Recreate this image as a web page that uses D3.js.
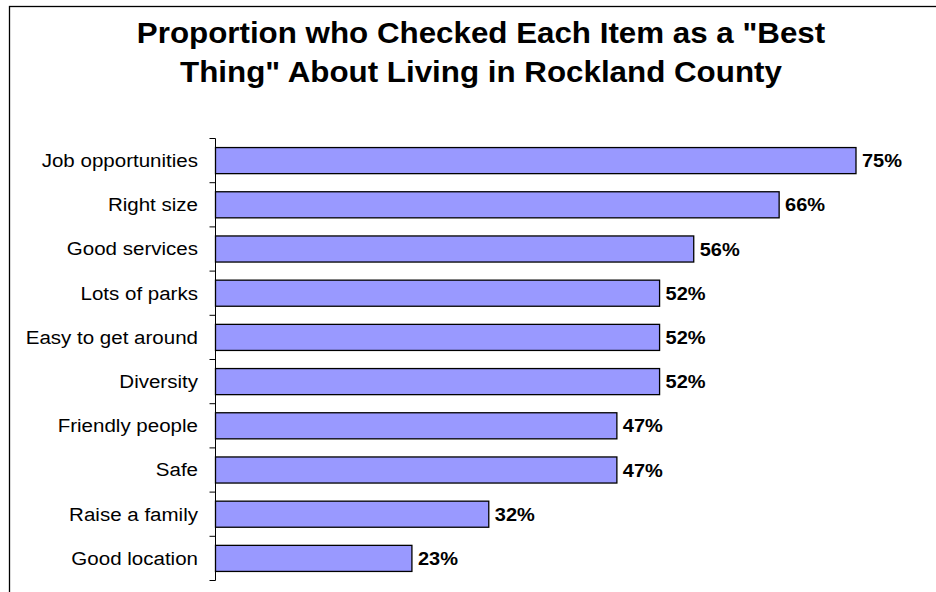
<!DOCTYPE html>
<html>
<head>
<meta charset="utf-8">
<script src="https://cdn.jsdelivr.net/npm/d3@7"></script>
<style>
  html, body { margin: 0; padding: 0; background: #fff; }
  svg { display: block; }
</style>
</head>
<body>
<svg id="chart" width="936" height="592"></svg>
<script>
// Survey items and share of respondents who checked each one
const categories = [
  "Job opportunities", "Right size", "Good services", "Lots of parks",
  "Easy to get around", "Diversity", "Friendly people", "Safe",
  "Raise a family", "Good location"
];
const values = [75, 66, 56, 52, 52, 52, 47, 47, 32, 23];
const titleLines = [
  "Proportion who Checked Each Item as a \"Best",
  "Thing\" About Living in Rockland County"
];

const svg = d3.select("#chart");
const W = 936, H = 592;
const FONT = "Liberation Sans, Arial, sans-serif";

// Widen text horizontally by a factor, keeping glyph height
function widen(sel, factor) {
  sel.each(function () {
    const len = this.getComputedTextLength();
    d3.select(this)
      .attr("textLength", len * factor)
      .attr("lengthAdjust", "spacingAndGlyphs");
  });
}

// Outer frame
svg.append("rect")
  .attr("x", 9.5).attr("y", 6.5)
  .attr("width", W + 10).attr("height", H + 10)
  .attr("fill", "#fff").attr("stroke", "#000").attr("stroke-width", 1.3);

// Title
const title = svg.append("g");
const titleBaselines = [43, 82];
titleLines.forEach((line, i) => {
  title.append("text")
    .attr("x", 481).attr("y", titleBaselines[i])
    .attr("text-anchor", "middle")
    .attr("font-family", FONT)
    .attr("font-weight", "bold")
    .attr("font-size", 29)
    .attr("fill", "#000")
    .text(line);
});
widen(title.selectAll("text"), 1.08);

// Plot area
const plotLeft = 215.5, plotTop = 138.5, plotBottom = 580.5;
const x = d3.scaleLinear().domain([0, 100]).range([plotLeft, plotLeft + 854]);
const y = d3.scaleBand().domain(categories).range([plotTop, plotBottom]).paddingInner(0.41).paddingOuter(0.205);

// Category axis with ticks at band boundaries
const axis = svg.append("g");
axis.append("line")
  .attr("x1", plotLeft).attr("x2", plotLeft)
  .attr("y1", plotTop).attr("y2", plotBottom)
  .attr("stroke", "#000").attr("stroke-width", 1);
const step = (plotBottom - plotTop) / categories.length;
d3.range(categories.length + 1).forEach(i => {
  const yy = plotTop + i * step;
  axis.append("line")
    .attr("x1", plotLeft - 6).attr("x2", plotLeft)
    .attr("y1", yy).attr("y2", yy)
    .attr("stroke", "#000").attr("stroke-width", 1);
});

const catLabels = axis.selectAll("text.cat")
  .data(categories)
  .join("text")
  .attr("class", "cat")
  .attr("x", 198)
  .attr("y", d => y(d) + y.bandwidth() / 2)
  .attr("dy", "0.36em")
  .attr("text-anchor", "end")
  .attr("font-family", FONT)
  .attr("font-size", 18)
  .attr("fill", "#000")
  .text(d => d);
widen(catLabels, 1.14);

// Bars
svg.append("g").selectAll("rect")
  .data(values)
  .join("rect")
  .attr("x", x(0))
  .attr("y", (d, i) => y(categories[i]))
  .attr("width", d => x(d) - x(0))
  .attr("height", y.bandwidth())
  .attr("fill", "#9999FF")
  .attr("stroke", "#000")
  .attr("stroke-width", 1.3);

// Value labels
const valLabels = svg.append("g").selectAll("text")
  .data(values)
  .join("text")
  .attr("x", d => x(d) + 6)
  .attr("y", (d, i) => y(categories[i]) + y.bandwidth() / 2)
  .attr("dy", "0.36em")
  .attr("font-family", FONT)
  .attr("font-weight", "bold")
  .attr("font-size", 18.5)
  .attr("fill", "#000")
  .text(d => d + "%");
widen(valLabels, 1.08);
</script>
</body>
</html>
